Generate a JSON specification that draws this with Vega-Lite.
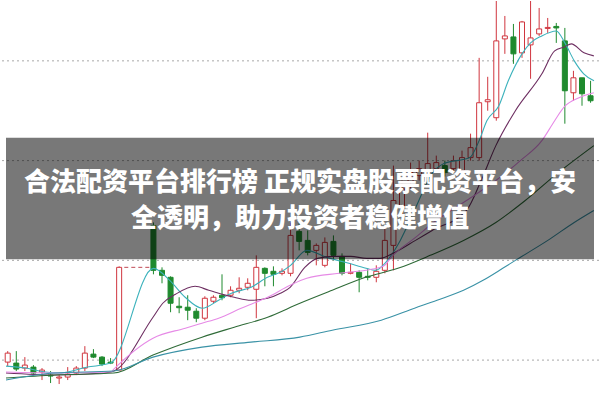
{
  "$schema": "https://vega.github.io/schema/vega-lite/v6.json",
  "width": 600,
  "height": 400,
  "autosize": {"type": "fit", "contains": "padding"},
  "padding": 0,
  "background": "#ffffff",
  "config": {"view": {"stroke": null}},
  "resolve": {"scale": {"stroke": "independent", "color": "independent", "fill": "independent"}},
  "datasets": {
    "candles": [
      {"i":0,"o":38,"c":47,"h":49,"l":34,"d":"up"},
      {"i":1,"o":37,"c":31,"h":49,"l":29,"d":"down"},
      {"i":2,"o":32,"c":35,"h":43,"l":29,"d":"up"},
      {"i":3,"o":33,"c":27,"h":35,"l":25,"d":"down"},
      {"i":4,"o":28,"c":30,"h":32,"l":20,"d":"up"},
      {"i":5,"o":25,"c":24,"h":29,"l":17,"d":"down"},
      {"i":6,"o":22,"c":23,"h":25,"l":16,"d":"up"},
      {"i":7,"o":23,"c":26,"h":33,"l":20,"d":"up"},
      {"i":8,"o":27,"c":32,"h":34,"l":25,"d":"up"},
      {"i":9,"o":32,"c":47,"h":54,"l":29,"d":"up"},
      {"i":10,"o":46,"c":43,"h":51,"l":42,"d":"down"},
      {"i":11,"o":43,"c":36,"h":44,"l":34,"d":"down"},
      {"i":12,"o":38,"c":37,"h":42,"l":36,"d":"down"},
      {"i":13,"o":30,"c":133,"h":134,"l":30,"d":"up"},
      {"i":17,"o":175,"c":130,"h":178,"l":126,"d":"down"},
      {"i":18,"o":130,"c":125,"h":133,"l":117,"d":"down"},
      {"i":19,"o":123,"c":97,"h":124,"l":88,"d":"down"},
      {"i":20,"o":94,"c":92.5,"h":103,"l":87,"d":"down"},
      {"i":21,"o":93,"c":90,"h":105,"l":80,"d":"down"},
      {"i":22,"o":89,"c":82,"h":92,"l":78,"d":"down"},
      {"i":23,"o":82,"c":102,"h":104,"l":80,"d":"up"},
      {"i":24,"o":99,"c":103,"h":105,"l":97,"d":"up"},
      {"i":25,"o":105,"c":102.5,"h":126,"l":100,"d":"down"},
      {"i":26,"o":105,"c":110,"h":114,"l":103,"d":"up"},
      {"i":27,"o":110,"c":112,"h":123,"l":107,"d":"up"},
      {"i":28,"o":113,"c":117,"h":122,"l":110,"d":"up"},
      {"i":29,"o":111,"c":133,"h":145,"l":82,"d":"up"},
      {"i":30,"o":132,"c":127,"h":133,"l":114,"d":"down"},
      {"i":31,"o":129,"c":126,"h":134,"l":114,"d":"down"},
      {"i":32,"o":127,"c":129,"h":132,"l":125,"d":"up"},
      {"i":33,"o":127,"c":165,"h":178,"l":124,"d":"up"},
      {"i":34,"o":169,"c":159,"h":177,"l":150,"d":"down"},
      {"i":35,"o":160,"c":148,"h":170,"l":145,"d":"down"},
      {"i":36,"o":150,"c":155,"h":157,"l":135,"d":"up"},
      {"i":37,"o":135,"c":158,"h":163,"l":133,"d":"up"},
      {"i":38,"o":159,"c":145,"h":165,"l":140,"d":"down"},
      {"i":39,"o":144,"c":127,"h":147,"l":125,"d":"down"},
      {"i":40,"o":127,"c":128,"h":137,"l":126,"d":"up"},
      {"i":41,"o":128,"c":123,"h":130,"l":108,"d":"down"},
      {"i":42,"o":124,"c":123,"h":132,"l":120,"d":"down"},
      {"i":43,"o":123,"c":129,"h":135,"l":118,"d":"up"},
      {"i":44,"o":130,"c":160,"h":173,"l":127,"d":"up"},
      {"i":45,"o":155,"c":200,"h":235,"l":130,"d":"up"},
      {"i":46,"o":193,"c":212,"h":220,"l":185,"d":"up"},
      {"i":47,"o":218,"c":228,"h":238,"l":212,"d":"up"},
      {"i":48,"o":225,"c":232,"h":240,"l":220,"d":"up"},
      {"i":49,"o":230,"c":237,"h":268,"l":222,"d":"up"},
      {"i":50,"o":232,"c":238,"h":245,"l":228,"d":"up"},
      {"i":51,"o":235,"c":228,"h":240,"l":224,"d":"down"},
      {"i":52,"o":232,"c":240,"h":245,"l":228,"d":"up"},
      {"i":53,"o":230,"c":243,"h":250,"l":226,"d":"up"},
      {"i":54,"o":243,"c":253,"h":267,"l":240,"d":"up"},
      {"i":55,"o":243,"c":298,"h":343,"l":240,"d":"up"},
      {"i":56,"o":299,"c":301,"h":324,"l":290,"d":"up"},
      {"i":57,"o":283,"c":360,"h":400,"l":280,"d":"up"},
      {"i":58,"o":362,"c":365,"h":385,"l":347,"d":"up"},
      {"i":59,"o":364,"c":347,"h":377,"l":337,"d":"down"},
      {"i":60,"o":348,"c":379,"h":380,"l":343,"d":"up"},
      {"i":61,"o":356,"c":363,"h":400,"l":322,"d":"up"},
      {"i":62,"o":367,"c":372,"h":393,"l":365,"d":"up"},
      {"i":63,"o":372.5,"c":373.5,"h":383,"l":368,"d":"up"},
      {"i":64,"o":374.5,"c":373,"h":378,"l":358,"d":"down"},
      {"i":65,"o":360,"c":310,"h":373,"l":277,"d":"down"},
      {"i":66,"o":308,"c":323,"h":330,"l":300,"d":"up"},
      {"i":67,"o":323,"c":307,"h":323,"l":295,"d":"down"},
      {"i":68,"o":305,"c":300,"h":320,"l":298,"d":"down"}
    ],
    "ma": [
      {"m":"MA5","i":-0.2,"p":34},{"m":"MA5","i":2.1,"p":32},{"m":"MA5","i":4.4,"p":28},{"m":"MA5","i":5.9,"p":27},
      {"m":"MA5","i":9.3,"p":33},{"m":"MA5","i":12.0,"p":37},{"m":"MA5","i":17.0,"p":132},{"m":"MA5","i":18.9,"p":120},
      {"m":"MA5","i":20.7,"p":103},{"m":"MA5","i":22.7,"p":92},{"m":"MA5","i":24.6,"p":100},{"m":"MA5","i":26.1,"p":107},
      {"m":"MA5","i":28.4,"p":113},{"m":"MA5","i":30.3,"p":123},{"m":"MA5","i":31.8,"p":128},{"m":"MA5","i":33.0,"p":135},
      {"m":"MA5","i":34.9,"p":150},{"m":"MA5","i":37.2,"p":143},{"m":"MA5","i":39.8,"p":137},{"m":"MA5","i":41.8,"p":132},
      {"m":"MA5","i":42.9,"p":130},{"m":"MA5","i":44.0,"p":137},{"m":"MA5","i":45.8,"p":160},{"m":"MA5","i":47.6,"p":193},
      {"m":"MA5","i":49.5,"p":227},{"m":"MA5","i":50.9,"p":237},{"m":"MA5","i":53.9,"p":243},{"m":"MA5","i":55.0,"p":260},
      {"m":"MA5","i":55.9,"p":280},{"m":"MA5","i":57.3,"p":295},{"m":"MA5","i":58.4,"p":320},{"m":"MA5","i":60.0,"p":347},
      {"m":"MA5","i":61.0,"p":358},{"m":"MA5","i":62.3,"p":365},{"m":"MA5","i":64.0,"p":370},{"m":"MA5","i":65.0,"p":358},
      {"m":"MA5","i":66.1,"p":340},{"m":"MA5","i":67.2,"p":327},{"m":"MA5","i":68.4,"p":320},

      {"m":"MA10","i":-0.2,"p":27},{"m":"MA10","i":5.52,"p":25},{"m":"MA10","i":11.23,"p":27},{"m":"MA10","i":12.38,"p":29},
      {"m":"MA10","i":16.95,"p":83},{"m":"MA10","i":18.09,"p":97},{"m":"MA10","i":19.58,"p":106},{"m":"MA10","i":21.86,"p":114},
      {"m":"MA10","i":23.46,"p":110},{"m":"MA10","i":26.43,"p":103},{"m":"MA10","i":28.38,"p":100},{"m":"MA10","i":30.32,"p":102},
      {"m":"MA10","i":31.81,"p":107},{"m":"MA10","i":32.95,"p":113},{"m":"MA10","i":34.66,"p":133},{"m":"MA10","i":36.15,"p":142},
      {"m":"MA10","i":38.09,"p":144},{"m":"MA10","i":40.03,"p":144},{"m":"MA10","i":41.86,"p":142},{"m":"MA10","i":43.46,"p":142},
      {"m":"MA10","i":44.95,"p":147},{"m":"MA10","i":47.58,"p":160},{"m":"MA10","i":49.52,"p":170},{"m":"MA10","i":53.52,"p":190},
      {"m":"MA10","i":55.23,"p":220},{"m":"MA10","i":56.95,"p":255},{"m":"MA10","i":59.23,"p":290},{"m":"MA10","i":62.32,"p":327},
      {"m":"MA10","i":63.81,"p":350},{"m":"MA10","i":64.95,"p":354},{"m":"MA10","i":65.75,"p":357},{"m":"MA10","i":67.23,"p":348},
      {"m":"MA10","i":68.38,"p":345},

      {"m":"MA20","i":-0.2,"p":28},{"m":"MA20","i":5.52,"p":27},{"m":"MA20","i":12.03,"p":28},{"m":"MA20","i":12.38,"p":31},
      {"m":"MA20","i":16.95,"p":62},{"m":"MA20","i":20.72,"p":72},{"m":"MA20","i":22.66,"p":77},{"m":"MA20","i":24.61,"p":82},
      {"m":"MA20","i":27.23,"p":92},{"m":"MA20","i":30.32,"p":103},{"m":"MA20","i":32.95,"p":115},{"m":"MA20","i":34.89,"p":122},
      {"m":"MA20","i":38.66,"p":127},{"m":"MA20","i":42.43,"p":131},{"m":"MA20","i":43.81,"p":134},{"m":"MA20","i":44.95,"p":145},
      {"m":"MA20","i":47.58,"p":163},{"m":"MA20","i":49.52,"p":177},{"m":"MA20","i":53.52,"p":200},{"m":"MA20","i":56.95,"p":220},
      {"m":"MA20","i":59.81,"p":240},{"m":"MA20","i":62.32,"p":260},{"m":"MA20","i":63.81,"p":280},{"m":"MA20","i":64.95,"p":294},
      {"m":"MA20","i":66.66,"p":303},{"m":"MA20","i":68.38,"p":308},

      {"m":"MA30","i":-0.2,"p":22},{"m":"MA30","i":5.52,"p":25},{"m":"MA30","i":12.38,"p":27},{"m":"MA30","i":16.95,"p":45},
      {"m":"MA30","i":22.66,"p":63},{"m":"MA30","i":26.43,"p":73},{"m":"MA30","i":30.32,"p":83},{"m":"MA30","i":34.09,"p":97},
      {"m":"MA30","i":37.86,"p":110},{"m":"MA30","i":41.75,"p":123},{"m":"MA30","i":45.52,"p":132},{"m":"MA30","i":49.29,"p":145},
      {"m":"MA30","i":53.18,"p":160},{"m":"MA30","i":56.95,"p":178},{"m":"MA30","i":60.38,"p":200},{"m":"MA30","i":63.81,"p":225},
      {"m":"MA30","i":68.38,"p":255},

      {"m":"MA60","i":-0.2,"p":20},{"m":"MA60","i":5.52,"p":27},{"m":"MA60","i":12.38,"p":29},{"m":"MA60","i":16.95,"p":43},
      {"m":"MA60","i":22.66,"p":53},{"m":"MA60","i":28.38,"p":58},{"m":"MA60","i":34.09,"p":63},{"m":"MA60","i":37.86,"p":70},
      {"m":"MA60","i":43.58,"p":80},{"m":"MA60","i":47.46,"p":92},{"m":"MA60","i":50.09,"p":100},{"m":"MA60","i":53.18,"p":110},
      {"m":"MA60","i":55.46,"p":120},{"m":"MA60","i":57.75,"p":132},{"m":"MA60","i":59.23,"p":140},{"m":"MA60","i":63.01,"p":160},
      {"m":"MA60","i":66.09,"p":178},{"m":"MA60","i":68.38,"p":190}
    ],
    "grid": [{"g":40},{"g":140},{"g":240},{"g":340}],
    "gap": [{"a":13.6,"b":16.8,"p":133}],
    "banner": [{"a":-0.2,"b":68.4,"top":263,"bottom":141}],
    "caption": [
      {"i":34.1,"p":218,"t":"合法配资平台排行榜 正规实盘股票配资平台，安"},
      {"i":34.1,"p":181,"t":"全透明，助力投资者稳健增值"}
    ]
  },
  "layer": [
    {
      "data": {"name": "grid"},
      "mark": {"type": "rule", "color": "#a8a8a8", "strokeWidth": 1, "strokeDash": [2, 3]},
      "encoding": {
        "y": {"field": "g", "type": "quantitative", "scale": {"domain": [0, 400], "nice": false, "zero": false}, "axis": null}
      }
    },
    {
      "data": {"name": "gap"},
      "mark": {"type": "rule", "color": "#c04a55", "strokeWidth": 1, "strokeDash": [4, 3]},
      "encoding": {
        "x": {"field": "a", "type": "quantitative", "scale": {"domain": [-0.2, 68.4], "nice": false, "zero": false}, "axis": null},
        "x2": {"field": "b"},
        "y": {"field": "p", "type": "quantitative", "scale": {"domain": [0, 400], "nice": false, "zero": false}, "axis": null}
      }
    },
    {
      "data": {"name": "candles"},
      "mark": {"type": "rule", "strokeWidth": 1},
      "encoding": {
        "x": {"field": "i", "type": "quantitative", "scale": {"domain": [-0.2, 68.4], "nice": false, "zero": false}, "axis": null},
        "y": {"field": "l", "type": "quantitative", "scale": {"domain": [0, 400], "nice": false, "zero": false}, "axis": null},
        "y2": {"field": "h"},
        "color": {"field": "d", "type": "nominal", "scale": {"domain": ["up", "down"], "range": ["#d0363f", "#1f8a2e"]}, "legend": null}
      }
    },
    {
      "data": {"name": "candles"},
      "mark": {"type": "bar", "size": 5, "strokeWidth": 1},
      "encoding": {
        "x": {"field": "i", "type": "quantitative", "scale": {"domain": [-0.2, 68.4], "nice": false, "zero": false}, "axis": null},
        "y": {"field": "o", "type": "quantitative", "scale": {"domain": [0, 400], "nice": false, "zero": false}, "axis": null},
        "y2": {"field": "c"},
        "fill": {"field": "d", "type": "nominal", "scale": {"domain": ["up", "down"], "range": ["#ffffff", "#1f8a2e"]}, "legend": null},
        "stroke": {"field": "d", "type": "nominal", "scale": {"domain": ["up", "down"], "range": ["#d0363f", "#1f8a2e"]}, "legend": null}
      }
    },
    {
      "data": {"name": "ma"},
      "mark": {"type": "line", "strokeWidth": 1.1, "interpolate": "monotone"},
      "encoding": {
        "x": {"field": "i", "type": "quantitative", "scale": {"domain": [-0.2, 68.4], "nice": false, "zero": false}, "axis": null},
        "y": {"field": "p", "type": "quantitative", "scale": {"domain": [0, 400], "nice": false, "zero": false}, "axis": null},
        "detail": {"field": "m", "type": "nominal"},
        "stroke": {"field": "m", "type": "nominal", "scale": {"domain": ["MA5", "MA10", "MA20", "MA30", "MA60"], "range": ["#3cb2bc", "#6e2f62", "#e68ae6", "#2f6b38", "#3a92a6"]}, "legend": null}
      }
    },
    {
      "data": {"name": "banner"},
      "mark": {"type": "rect", "color": "#000000", "opacity": 0.53},
      "encoding": {
        "x": {"field": "a", "type": "quantitative", "scale": {"domain": [-0.2, 68.4], "nice": false, "zero": false}, "axis": null},
        "x2": {"field": "b"},
        "y": {"field": "top", "type": "quantitative", "scale": {"domain": [0, 400], "nice": false, "zero": false}, "axis": null},
        "y2": {"field": "bottom"}
      }
    },
    {
      "data": {"name": "caption"},
      "mark": {"type": "text", "color": "#ffffff", "font": "Noto Sans CJK SC", "fontWeight": 900, "fontSize": 26, "align": "center", "baseline": "middle"},
      "encoding": {
        "x": {"field": "i", "type": "quantitative", "scale": {"domain": [-0.2, 68.4], "nice": false, "zero": false}, "axis": null},
        "y": {"field": "p", "type": "quantitative", "scale": {"domain": [0, 400], "nice": false, "zero": false}, "axis": null},
        "text": {"field": "t", "type": "nominal"}
      }
    }
  ]
}
